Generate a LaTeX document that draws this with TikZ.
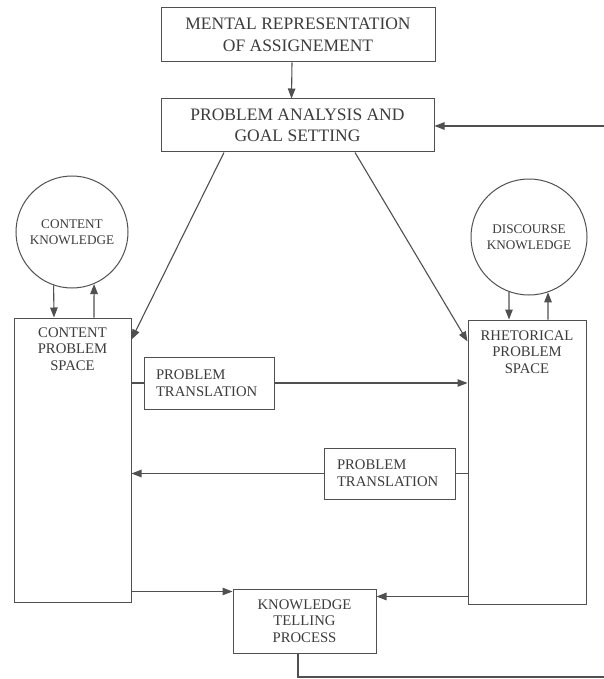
\documentclass[tikz,border=0pt]{standalone}
\usepackage{fontspec}
\setmainfont{Liberation Serif}
\usetikzlibrary{arrows.meta,calc}
\definecolor{lncol}{HTML}{505050}
\definecolor{txcol}{HTML}{3C3C3C}
\begin{document}
\begin{tikzpicture}[x=1pt,y=-1pt,
  box/.style={draw=lncol, line width=1pt, inner sep=0pt},
  big/.style={font=\fontsize{17.5}{21.5}\selectfont, text=txcol, align=center},
  mid/.style={font=\fontsize{14.7}{16.7}\selectfont, text=txcol, align=center},
  sml/.style={font=\fontsize{13.2}{16}\selectfont, text=txcol, align=center},
  circ/.style={draw=lncol, line width=1pt, circle, inner sep=0pt},
  arr/.style={draw=lncol, line width=1.1pt, -{Triangle[length=10pt,width=7.5pt]}},
  plain/.style={draw=lncol, line width=1.1pt}]
\useasboundingbox (0,0) rectangle (603,679);
\fill[white] (0,0) rectangle (603,679);

\node[box,big,minimum width=274pt,minimum height=54pt] (mra) at (298,35) {MENTAL REPRESENTATION\\OF ASSIGNEMENT};
\node[box,big,minimum width=273pt,minimum height=53pt] (pags) at (297.5,125.5) {PROBLEM ANALYSIS AND\\GOAL SETTING};

\node[circ,sml,minimum size=112pt] (ck) at (72,232) {CONTENT\\KNOWLEDGE};
\node[circ,sml,minimum size=116pt] (dk) at (529,237) {DISCOURSE\\KNOWLEDGE};

\node[box,minimum width=117pt,minimum height=284pt] (cps) at (72.5,460) {};
\node[mid] (cpst) at (72.5,349) {CONTENT\\PROBLEM\\SPACE};
\node[box,minimum width=118pt,minimum height=284pt] (rps) at (527,462) {};
\node[mid] (rpst) at (527,352) {RHETORICAL\\PROBLEM\\SPACE};

\node[box,font=\fontsize{14.7}{16.7}\selectfont,text=txcol,align=left,text width=106pt,inner xsep=12pt,minimum height=52pt] (pt1) at (209,383) {PROBLEM\\TRANSLATION};
\node[box,font=\fontsize{14.7}{16.7}\selectfont,text=txcol,align=left,text width=105pt,inner xsep=13pt,minimum height=51pt] (pt2) at (389.5,473.5) {PROBLEM\\TRANSLATION};

\node[box,mid,minimum width=143pt,minimum height=64pt] (ktp) at (304.5,621) {KNOWLEDGE\\TELLING\\PROCESS};

\coordinate (fbb) at (604,677);
\coordinate (fbt) at (604,126);
\coordinate (kin1) at ([yshift=-3pt]ktp.north west);
\coordinate (kin2) at ([yshift=-8pt]ktp.north east);

\draw[arr] ([xshift=-6pt]mra.south) -- ([xshift=-6pt]pags.north);
\draw[arr] ([xshift=-73.5pt]pags.south) -- ([yshift=-22pt]cps.north east);
\draw[arr] ([xshift=57.5pt]pags.south) -- ([yshift=-22pt]rps.north west);
\draw[arr] (ck.251) -- ([xshift=-18.5pt]cps.north);
\draw[arr] ([xshift=21.5pt]cps.north) -- (ck.293);
\draw[arr] (dk.250) -- ([xshift=-18pt]rps.north);
\draw[arr] ([xshift=21pt]rps.north) -- (dk.289);
\draw[plain] (cps.east |- pt1.west) -- (pt1.west);
\draw[arr] (pt1.east) -- (pt1.east -| rps.west);
\draw[plain] (rps.west |- pt2.east) -- (pt2.east);
\draw[arr] (pt2.west) -- (pt2.west -| cps.east);
\draw[arr] (kin1 -| cps.east) -- (kin1);
\draw[arr] (kin2 -| rps.west) -- (kin2);
\draw[plain] ([xshift=-6.5pt]ktp.south) |- (fbb);
\draw[arr] (fbt) -- (fbt -| pags.east);
\end{tikzpicture}
\end{document}
